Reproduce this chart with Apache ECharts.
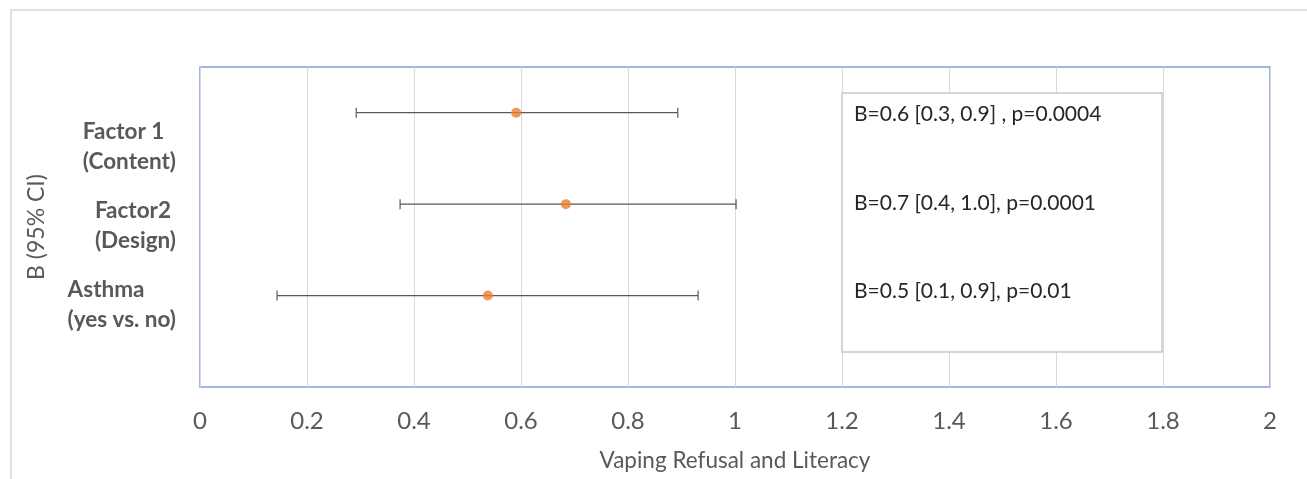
<!DOCTYPE html>
<html><head><meta charset="utf-8">
<script src="https://cdn.jsdelivr.net/npm/echarts@6/dist/echarts.min.js"></script>
<style>html,body{margin:0;padding:0;background:#fff}#c{width:1307px;height:479px}</style>
</head><body><div id="c"></div>
<script>
var categories = ['Factor 1\n(Content)', 'Factor2\n(Design)', 'Asthma\n(yes vs. no)'];
var yPos = [3, 2, 1];
var estimates = [0.591, 0.684, 0.538];
var lower = [0.292, 0.374, 0.144];
var upper = [0.893, 1.002, 0.931];
var annotations = ['B=0.6 [0.3, 0.9] , p=0.0004', 'B=0.7 [0.4, 1.0], p=0.0001', 'B=0.5 [0.1, 0.9], p=0.01'];
var xTicks = [0, 0.2, 0.4, 0.6, 0.8, 1, 1.2, 1.4, 1.6, 1.8, 2];

var font = 'Lato, "Open Sans", sans-serif';
var chart = echarts.init(document.getElementById('c'));

var errData = yPos.map(function (y, i) { return [lower[i], upper[i], y]; });
var ptData = yPos.map(function (y, i) { return [estimates[i], y]; });

var labelTexts = [];
var labelTops = [117, 195.5, 275];
categories.forEach(function (c, i) {
  labelTexts.push({
    type: 'text', right: 1307 - 176, top: labelTops[i],
    style: { text: c, font: 'bold 22.5px ' + font, fill: '#595959', align: 'center', lineHeight: 30 }
  });
});
var annTops = [104, 192.5, 280.5];
var annGraphics = annotations.map(function (t, i) {
  return { type: 'text', left: 854, top: annTops[i], z: 20,
    style: { text: t, font: '21px ' + font, fill: '#262626' } };
});

chart.setOption({
  animation: false,
  backgroundColor: '#fff',
  grid: { left: 200, right: 37, top: 67, bottom: 92, show: true, borderColor: '#7f9fd6', borderWidth: 1.5 },
  xAxis: {
    type: 'value', min: 0, max: 2, interval: 0.2,
    name: 'Vaping Refusal and Literacy', nameLocation: 'middle', nameGap: 62,
    nameTextStyle: { fontFamily: font, fontSize: 22.5, color: '#595959' },
    axisLine: { show: false }, axisTick: { show: false },
    axisLabel: { fontFamily: font, fontSize: 24, color: '#595959', margin: 22,
      formatter: function (v) { return String(Math.round(v * 10) / 10); } },
    splitLine: { show: true, lineStyle: { color: '#d9d9d9', width: 1 } }
  },
  yAxis: {
    type: 'value', min: 0, max: 3.5,
    name: 'B (95% CI)', nameLocation: 'middle', nameGap: 152, nameRotate: 90,
    nameTextStyle: { fontFamily: font, fontSize: 23, color: '#595959' },
    axisLine: { show: false }, axisTick: { show: false }, axisLabel: { show: false },
    splitLine: { show: false }
  },
  graphic: [
    { type: 'rect', shape: { x: 11, y: 10, width: 1400, height: 600 }, style: { fill: 'none', stroke: '#d9d9d9', lineWidth: 1.5 }, z: -10 },
    { type: 'rect', shape: { x: 842, y: 93, width: 320, height: 259 }, style: { fill: '#fff', stroke: '#c8c8c8', lineWidth: 1.5 }, z: 15 }
  ].concat(labelTexts).concat(annGraphics),
  series: [
    {
      type: 'custom', data: errData, z: 3,
      renderItem: function (params, api) {
        var a = api.coord([api.value(0), api.value(2)]);
        var b = api.coord([api.value(1), api.value(2)]);
        var h = 5;
        var st = { stroke: '#595959', lineWidth: 1.2 };
        return { type: 'group', children: [
          { type: 'line', shape: { x1: a[0], y1: a[1], x2: b[0], y2: b[1] }, style: st },
          { type: 'line', shape: { x1: a[0], y1: a[1] - h, x2: a[0], y2: a[1] + h }, style: st },
          { type: 'line', shape: { x1: b[0], y1: b[1] - h, x2: b[0], y2: b[1] + h }, style: st }
        ]};
      }
    },
    {
      type: 'scatter', data: ptData, symbol: 'circle', symbolSize: 10, z: 5,
      itemStyle: { color: '#ED7D31' }
    }
  ]
});
</script></body></html>
